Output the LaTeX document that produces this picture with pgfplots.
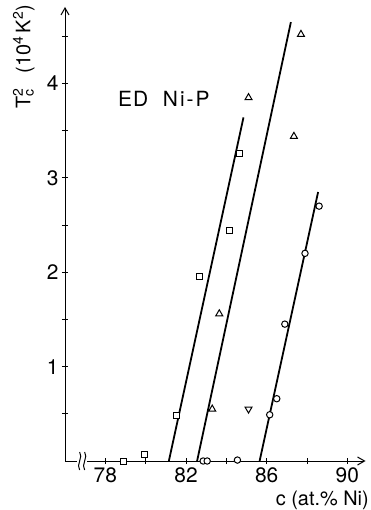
\documentclass[border=0pt]{standalone}
\usepackage{pgfplots}
\pgfplotsset{compat=1.18}
\usepackage{fontspec}
\setmainfont{TeX Gyre Heros}
\usetikzlibrary{arrows.meta}
\begin{document}
\begin{tikzpicture}
\useasboundingbox (-65bp,-49bp) rectangle (306bp,461bp);
\begin{axis}[
  scale only axis, width=300.5bp, height=454bp,
  xmin=76, xmax=90.9, ymin=0, ymax=4.81,
  axis lines=left,
  axis line style={line width=1pt},
  x axis line style={-{Straight Barb[length=7bp,width=8bp]}},
  y axis line style={-{Straight Barb[length=7bp,width=8bp]}},
  xtick={78,82,86,90}, minor xtick={80,84,88},
  ytick={1,2,3,4}, minor ytick={0.5,1.5,2.5,3.5,4.5},
  tick align=center, major tick length=6bp, minor tick length=6bp,
  tick style={line width=1pt, black},
  /pgf/number format/assume math mode=true,
  tick label style={font=\fontsize{21}{24}\selectfont},
  xticklabel style={yshift=0bp},
  yticklabel style={xshift=0bp},
  clip=false,
]
\addplot[line width=1.8pt, black] coordinates {(81.15,0) (84.85,3.64)};
\addplot[line width=1.8pt, black] coordinates {(82.55,0) (87.2,4.65)};
\addplot[line width=1.8pt, black] coordinates {(85.65,0) (88.55,2.85)};
\addplot[only marks, mark=square*, mark size=3bp, mark options={fill=white, draw=black, line width=1pt}]
  coordinates {(78.9,0) (79.95,0.07) (81.55,0.48) (82.65,1.96) (84.15,2.44) (84.65,3.26)};
\addplot[only marks, mark=triangle*, mark size=4bp, mark options={fill=white, draw=black, line width=1pt}]
  coordinates {(83.3,0.55) (83.65,1.56) (85.1,3.85) (87.35,3.44) (87.7,4.52)};
\addplot[only marks, mark=triangle*, mark size=4bp, mark options={fill=white, draw=black, line width=1pt, rotate=180}]
  coordinates {(85.1,0.55)};
\addplot[only marks, mark=*, mark size=3.2bp, mark options={fill=white, draw=black, line width=1pt}]
  coordinates {(82.85,0) (83.05,0) (84.55,0.01) (86.15,0.49) (86.5,0.66) (86.9,1.45) (87.9,2.2) (88.6,2.7)};
% axis break
\fill[white] ([shift={(-5bp,-2bp)}]axis cs:76.85,0) rectangle ([shift={(5bp,2bp)}]axis cs:76.85,0);
\draw[line width=1pt] ([shift={(-2.5bp,-9bp)}]axis cs:76.85,0) .. controls +(-4bp,5bp) and +(4bp,-5bp) .. ++(0bp,18bp);
\draw[line width=1pt] ([shift={(2.5bp,-9bp)}]axis cs:76.85,0) .. controls +(-4bp,5bp) and +(4bp,-5bp) .. ++(0bp,18bp);
\node[anchor=west, inner sep=0pt, font=\fontsize{21}{24}\selectfont] at (axis cs:78.63,3.84) {E\kern1bp D\hspace{0.7em}N\kern2bp i\kern2bp -\kern2bp P};
\node[rotate=90, font=\fontsize{20}{24}\selectfont] at (axis description cs:-0.137,0.89)
  {T\rlap{\textsuperscript{2}}\textsubscript{c}\hspace{0.5em} (10\textsuperscript{4}\,K\textsuperscript{2})};
\node[anchor=east, inner sep=0pt, font=\fontsize{20}{24}\selectfont] at ([shift={(304bp,-39bp)}]axis description cs:0,0) {c (at.\% Ni)};
\end{axis}
\end{tikzpicture}
\end{document}
